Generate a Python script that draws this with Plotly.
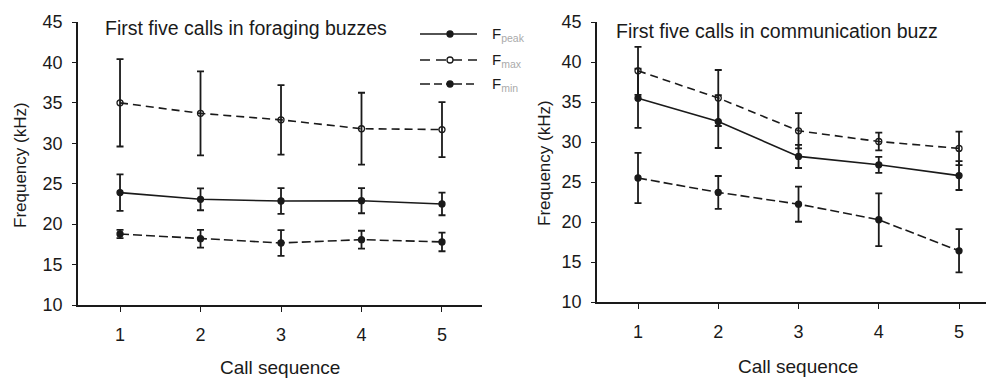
import plotly.graph_objects as go

calls = [1, 2, 3, 4, 5]
tick_vals_y = [10, 15, 20, 25, 30, 35, 40, 45]

# Left panel: foraging buzzes
for_fpeak = [23.9, 23.07, 22.86, 22.9, 22.5]
for_fpeak_err = [2.25, 1.35, 1.6, 1.55, 1.4]
for_fmax = [35.0, 33.7, 32.9, 31.8, 31.7]
for_fmax_err = [5.4, 5.2, 4.3, 4.45, 3.4]
for_fmin = [18.78, 18.2, 17.67, 18.08, 17.8]
for_fmin_err = [0.5, 1.1, 1.6, 1.1, 1.15]

# Right panel: communication buzz
com_fpeak = [35.47, 32.55, 28.2, 27.15, 25.8]
com_fpeak_err = [3.7, 3.3, 1.45, 1.0, 1.8]
com_fmax = [38.9, 35.5, 31.4, 30.06, 29.2]
com_fmax_err = [3.0, 3.5, 2.2, 1.1, 2.1]
com_fmin = [25.5, 23.7, 22.23, 20.28, 16.4]
com_fmin_err = [3.15, 2.05, 2.2, 3.3, 2.7]

INK = "#1a1a1a"
FONT = "Liberation Sans, Arial, sans-serif"

styles = {
    "peak": dict(dash="solid", legdash="solid", symbol="circle", fill=INK),
    "max": dict(dash="8px,5px", legdash="10px,6px", symbol="circle-open", fill="white"),
    "min": dict(dash="9px,4px", legdash="10px,4px,8px,4px,2px,4px", symbol="circle", fill=INK),
}

fig = go.Figure()


def add(x, y, err, key, xa, ya):
    s = styles[key]
    fig.add_trace(go.Scatter(
        x=x, y=y, xaxis=xa, yaxis=ya, mode="lines+markers",
        line=dict(color=INK, width=1.6, dash=s["dash"]),
        marker=dict(symbol=s["symbol"], size=6, color=INK,
                    line=dict(color=INK, width=1.3)),
        error_y=dict(type="data", array=err, visible=True, color=INK,
                     thickness=1.8, width=3.5),
        showlegend=False, hoverinfo="skip",
    ))


add(calls, for_fmax, for_fmax_err, "max", "x", "y")
add(calls, for_fpeak, for_fpeak_err, "peak", "x", "y")
add(calls, for_fmin, for_fmin_err, "min", "x", "y")
add(calls, com_fmax, com_fmax_err, "max", "x2", "y2")
add(calls, com_fpeak, com_fpeak_err, "peak", "x2", "y2")
add(calls, com_fmin, com_fmin_err, "min", "x2", "y2")

W, H = 986, 378

axis_common = dict(
    showgrid=False, zeroline=False, showline=True, linecolor=INK, linewidth=1.6,
    ticks="outside", tickcolor=INK, tickwidth=1.4, automargin=False,
    tickfont=dict(family=FONT, size=18, color=INK),
)
ytitle = dict(text="Frequency (kHz)", font=dict(family=FONT, size=17, color="#000000"), standoff=12)
xtitle = dict(text="Call sequence", font=dict(family=FONT, size=19, color=INK), standoff=16)

fig.update_layout(
    width=W, height=H,
    margin=dict(l=0, r=0, t=0, b=0, autoexpand=False),
    paper_bgcolor="white", plot_bgcolor="white",
    font=dict(family=FONT, color=INK),
    xaxis=dict(domain=[78 / W, 482 / W], range=[0.478, 5.497], anchor="y",
               tickvals=calls, ticklen=5, ticklabelstandoff=8, **axis_common),
    yaxis=dict(domain=[1 - 305 / H, 1 - 22 / H], range=[10, 45], anchor="x",
               tickvals=tick_vals_y, ticklen=4, ticklabelstandoff=6, **axis_common),
    xaxis2=dict(domain=[597 / W, 1.0], range=[0.489, 5.336], anchor="y2",
                tickvals=calls, ticklen=5, ticklabelstandoff=8, **axis_common),
    yaxis2=dict(domain=[1 - 302 / H, 1 - 22 / H], range=[10, 45], anchor="x2",
                tickvals=tick_vals_y, ticklen=4, ticklabelstandoff=6, **axis_common),
)

ann = []
def text(x, y, t, size, xanchor="center", angle=0, color=INK):
    ann.append(dict(x=x / W, y=1 - y / H, xref="paper", yref="paper", text=t,
                    showarrow=False, xanchor=xanchor, yanchor="middle", textangle=angle,
                    font=dict(family=FONT, size=size, color=color)))

text(103, 28, "First five calls in foraging buzzes", 19.5, xanchor="left")
text(614, 31, "First five calls in communication buzz", 19.5, xanchor="left")
text(280, 367, "Call sequence", 19)
text(798, 366, "Call sequence", 19)
text(20, 165, "Frequency (kHz)", 17, angle=-90)
text(545, 163, "Frequency (kHz)", 17, angle=-90)

# Legend (drawn manually)
legend_items = [("peak", "F<sub><span style='color:#aaa'>peak</span></sub>", 34),
                ("max", "F<sub><span style='color:#aaa'>max</span></sub>", 60),
                ("min", "F<sub><span style='color:#aaa'>min</span></sub>", 84)]
shapes = []
for key, label, ly in legend_items:
    s = styles[key]
    yy = 1 - ly / H
    shapes.append(dict(type="line", xref="paper", yref="paper", x0=420 / W, x1=477 / W,
                       y0=yy, y1=yy, line=dict(color=INK, width=1.6, dash=s["legdash"])))
    shapes.append(dict(type="circle", xref="paper", yref="paper",
                       x0=447 / W, x1=453 / W, y0=yy - 3 / H, y1=yy + 3 / H,
                       fillcolor=s["fill"], line=dict(color=INK, width=1.3)))
    ann.append(dict(x=490 / W, y=yy, xref="paper", yref="paper", text=label,
                    showarrow=False, xanchor="left", yanchor="middle",
                    font=dict(family=FONT, size=15, color=INK)))

fig.update_layout(annotations=ann, shapes=shapes)

fig.write_html("out.html")
